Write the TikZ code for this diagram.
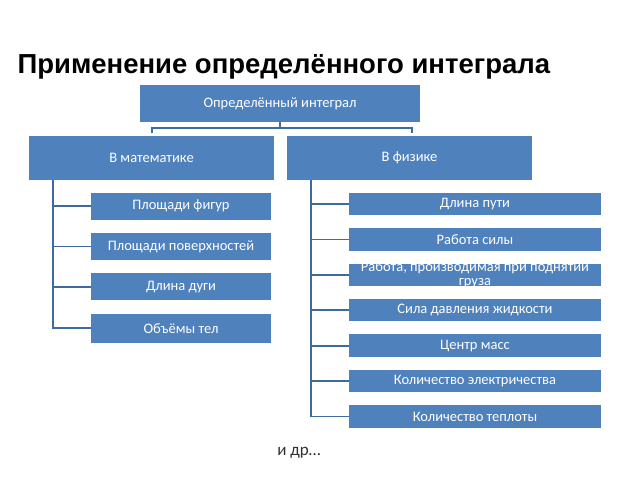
\documentclass[tikz,border=0pt]{standalone}
\usepackage{fontspec}
\setmainfont{Carlito}
\newfontfamily\titlefont{Liberation Sans}
\usetikzlibrary{positioning}

\definecolor{boxblue}{HTML}{4F81BD}
\definecolor{linkblue}{HTML}{3E6B9F}
\definecolor{etcgray}{HTML}{303030}

\tikzset{
	box/.style={fill=boxblue,text=white,inner sep=0pt,align=center,font=\fontsize{14.5}{16}\selectfont},
	topbox/.style={box,minimum width=280pt,minimum height=37pt},
	midbox/.style={box,minimum width=245pt,minimum height=44pt},
	mathbox/.style={box,minimum width=180pt,minimum height=27pt},
	physbox/.style={box,minimum width=252pt,minimum height=22.5pt},
	link/.style={draw=linkblue,line width=1.8pt},
}

\begin{document}
\begin{tikzpicture}[x=1pt,y=-1pt]
	\useasboundingbox (0,0) rectangle (640,480);
	
	\node[anchor=base west,font=\titlefont\bfseries\fontsize{27.5}{32}\selectfont] (title) at (14,73) {Применение определённого интеграла};
	
	\node[topbox] (integral) at (280,103.5) {Определённый интеграл};
	\node[midbox] (math) at (151.5,158) {В математике};
	\node[midbox] (phys) at (409.5,158) {В физике};
	
	% bracket under the top box
	\coordinate (bl) at (152,133);
	\coordinate (br) at (412,133);
	\draw[link] (bl) -- ++(0,-5) -| (br);
	\draw[link] (integral.south) -- ++(0,6);
	
	% mathematics
	\node[mathbox] (m1) at (181,206) {Площади фигур};
	\node[mathbox,below=13pt of m1] (m2) {Площади поверхностей};
	\node[mathbox,below=13pt of m2] (m3) {Длина дуги};
	\node[mathbox,below=13pt of m3,minimum height=29pt] (m4) {Объёмы тел};
	
	\coordinate (mspine) at (53,180);
	\draw[link] (mspine) |- (m4.west);
	\foreach \n in {m1,m2,m3}
		\draw[link] (mspine |- \n.west) -- (\n.west);
	
	% physics
	\node[physbox] (f1) at (475,204) {Длина пути};
	\node[physbox,below=12.5pt of f1] (f2) {Работа силы};
	\node[physbox,below=12.5pt of f2,label={[box,fill=none,font=\fontsize{14.5}{14.5}\selectfont]center:Работа, производимая при поднятии\\груза}] (f3) {};
	\node[physbox,below=12.5pt of f3] (f4) {Сила давления жидкости};
	\node[physbox,below=12.5pt of f4] (f5) {Центр масс};
	\node[physbox,below=12.5pt of f5] (f6) {Количество электричества};
	\node[physbox,below=12.5pt of f6] (f7) {Количество теплоты};
	
	\coordinate (fspine) at (311,180);
	\draw[link] (fspine) |- (f7.west);
	\foreach \n in {f1,f2,f3,f4,f5,f6}
		\draw[link] (fspine |- \n.west) -- (\n.west);
	
	\node[text=etcgray,font=\fontsize{17}{20}\selectfont] (etc) at (299,453) {и др…};
\end{tikzpicture}
\end{document}
